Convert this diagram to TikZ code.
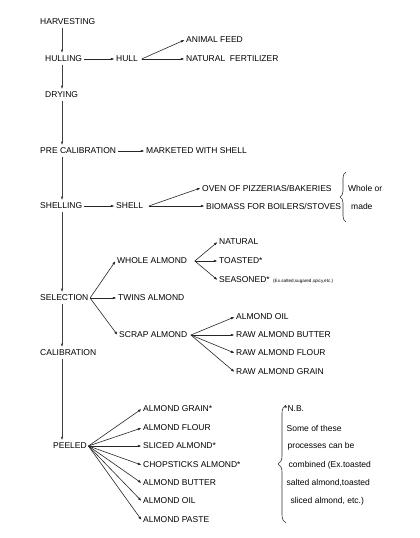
\documentclass[tikz,border=0pt]{standalone}
\usepackage{fontspec}
\setmainfont{Liberation Sans}
\usetikzlibrary{arrows.meta,decorations.pathreplacing}
\begin{document}
\begin{tikzpicture}[x=1pt,y=-1pt,
  lbl/.style={anchor=west,inner xsep=1.5pt,inner ysep=2.5pt,font=\fontsize{8.5}{10}\selectfont},
  tiny/.style={anchor=west,inner sep=0pt,font=\fontsize{4.6}{5}\selectfont},
  arr/.style={draw=black!85,line width=0.6pt,-{Latex[length=3.6pt,width=2.6pt]}},
  spine/.style={draw=black!75,line width=0.7pt,-{Latex[length=3.6pt,width=2.6pt]}},
  bracestyle/.style={draw=black!80,line width=0.6pt,decorate,decoration={brace,amplitude=#1}}]
\useasboundingbox (0,0) rectangle (420,538);
\coordinate (sp) at (62,0);
% main column
\node[lbl] (harv) at (38.5,22) {HARVESTING};
\node[lbl] (hulling) at (43.5,59) {HULLING};
\node[lbl] (dry) at (43.5,95) {DRYING};
\node[lbl] (precal) at (38.5,151) {PRE CALIBRATION};
\node[lbl] (shelling) at (38.5,206) {SHELLING};
\node[lbl] (selection) at (38.5,298) {SELECTION};
\node[lbl] (calib) at (38.5,353) {CALIBRATION};
\node[lbl] (peeled) at (51.5,446) {PEELED};
% branches
\node[lbl] (hull) at (114.5,59) {HULL};
\node[lbl] (feed) at (184.5,40) {ANIMAL FEED};
\node[lbl] (fert) at (184.5,59) {NATURAL\ \ FERTILIZER};
\node[lbl] (market) at (144.5,151) {MARKETED WITH SHELL};
\node[lbl] (shell) at (114.5,206) {SHELL};
\node[lbl] (oven) at (200.5,188) {OVEN OF PIZZERIAS/BAKERIES};
\node[lbl] (bio) at (204.5,206) {BIOMASS FOR BOILERS/STOVES};
\node[lbl] (wholeor) at (346.5,188) {Whole or};
\node[lbl] (made) at (349.5,206) {made};
\node[lbl] (wholeal) at (115.5,261) {WHOLE ALMOND};
\node[lbl] (natural) at (217.5,242) {NATURAL};
\node[lbl] (toasted) at (217.5,261) {TOASTED*};
\node[lbl] (seasoned) at (217.5,280) {SEASONED*};
\node[tiny] (ex) at (273,281.5) {(Ex.salted,sugared,spicy,etc.)};
\node[lbl] (twins) at (116.5,298) {TWINS ALMOND};
\node[lbl] (scrap) at (117.5,335) {SCRAP ALMOND};
\node[lbl] (oil1) at (234.5,317) {ALMOND OIL};
\node[lbl] (rbutter) at (234.5,335) {RAW ALMOND BUTTER};
\node[lbl] (rflour) at (234.5,353) {RAW ALMOND FLOUR};
\node[lbl] (rgrain) at (234.5,372) {RAW ALMOND GRAIN};
\node[lbl] (p1) at (141.5,409) {ALMOND GRAIN*};
\node[lbl] (p2) at (141.5,428) {ALMOND FLOUR};
\node[lbl] (p3) at (141.5,446) {SLICED ALMOND*};
\node[lbl] (p4) at (141.5,465) {CHOPSTICKS ALMOND*};
\node[lbl] (p5) at (141.5,483) {ALMOND BUTTER};
\node[lbl] (p6) at (141.5,501) {ALMOND OIL};
\node[lbl] (p7) at (141.5,520) {ALMOND PASTE};
% note
\node[lbl] (nb1) at (282.5,409) {*N.B.};
\node[lbl] (nb2) at (285,428) {Some of these};
\node[lbl] (nb3) at (286,446) {processes can be};
\node[lbl] (nb4) at (287,465) {combined (Ex.toasted};
\node[lbl] (nb5) at (285,483) {salted almond,toasted};
\node[lbl] (nb6) at (289,501) {sliced almond, etc.)};
% spine arrows
\draw[spine] (harv.south -| sp) -- (hulling.north -| sp);
\draw[spine] (hulling.south -| sp) -- (dry.north -| sp);
\draw[spine] (dry.south -| sp) -- (precal.north -| sp);
\draw[spine] (precal.south -| sp) -- (shelling.north -| sp);
\draw[spine] (shelling.south -| sp) -- (selection.north -| sp);
\draw[spine] (selection.south -| sp) -- (calib.north -| sp);
\draw[spine] (calib.south -| sp) -- (peeled.north -| sp);
% branch arrows
\draw[arr] (hulling.east) -- (hull.west);
\draw[arr] ([xshift=2pt]hull.east) -- (feed.west);
\draw[arr] ([xshift=2pt]hull.east) -- (fert.west);
\draw[arr] (precal.east) -- (market.west);
\draw[arr] (shelling.east) -- (shell.west);
\draw[arr] ([xshift=4pt]shell.east) -- (oven.west);
\draw[arr] ([xshift=4pt]shell.east) -- (bio.west);
\draw[arr] (selection.east) -- (wholeal.west);
\draw[arr] (selection.east) -- (twins.west);
\draw[arr] (selection.east) -- (scrap.west);
\draw[arr] ([xshift=6pt]wholeal.east) -- (natural.west);
\draw[arr] ([xshift=6pt]wholeal.east) -- (toasted.west);
\draw[arr] ([xshift=6pt]wholeal.east) -- (seasoned.west);
\foreach \t in {oil1,rbutter,rflour,rgrain}
  \draw[arr] ([xshift=2pt]scrap.east) -- (\t.west);
\foreach \t in {p1,p2,p3,p4,p5,p6,p7}
  \draw[arr] (peeled.east) -- (\t.west);
% braces
\coordinate (b1a) at (346,222);
\coordinate (b1b) at (346,172);
\draw[bracestyle=6pt] (b1a) -- (b1b);
\coordinate (b2a) at (286,523);
\coordinate (b2b) at (286,405);
\draw[bracestyle=8pt] (b2a) -- (b2b);
\end{tikzpicture}
\end{document}
